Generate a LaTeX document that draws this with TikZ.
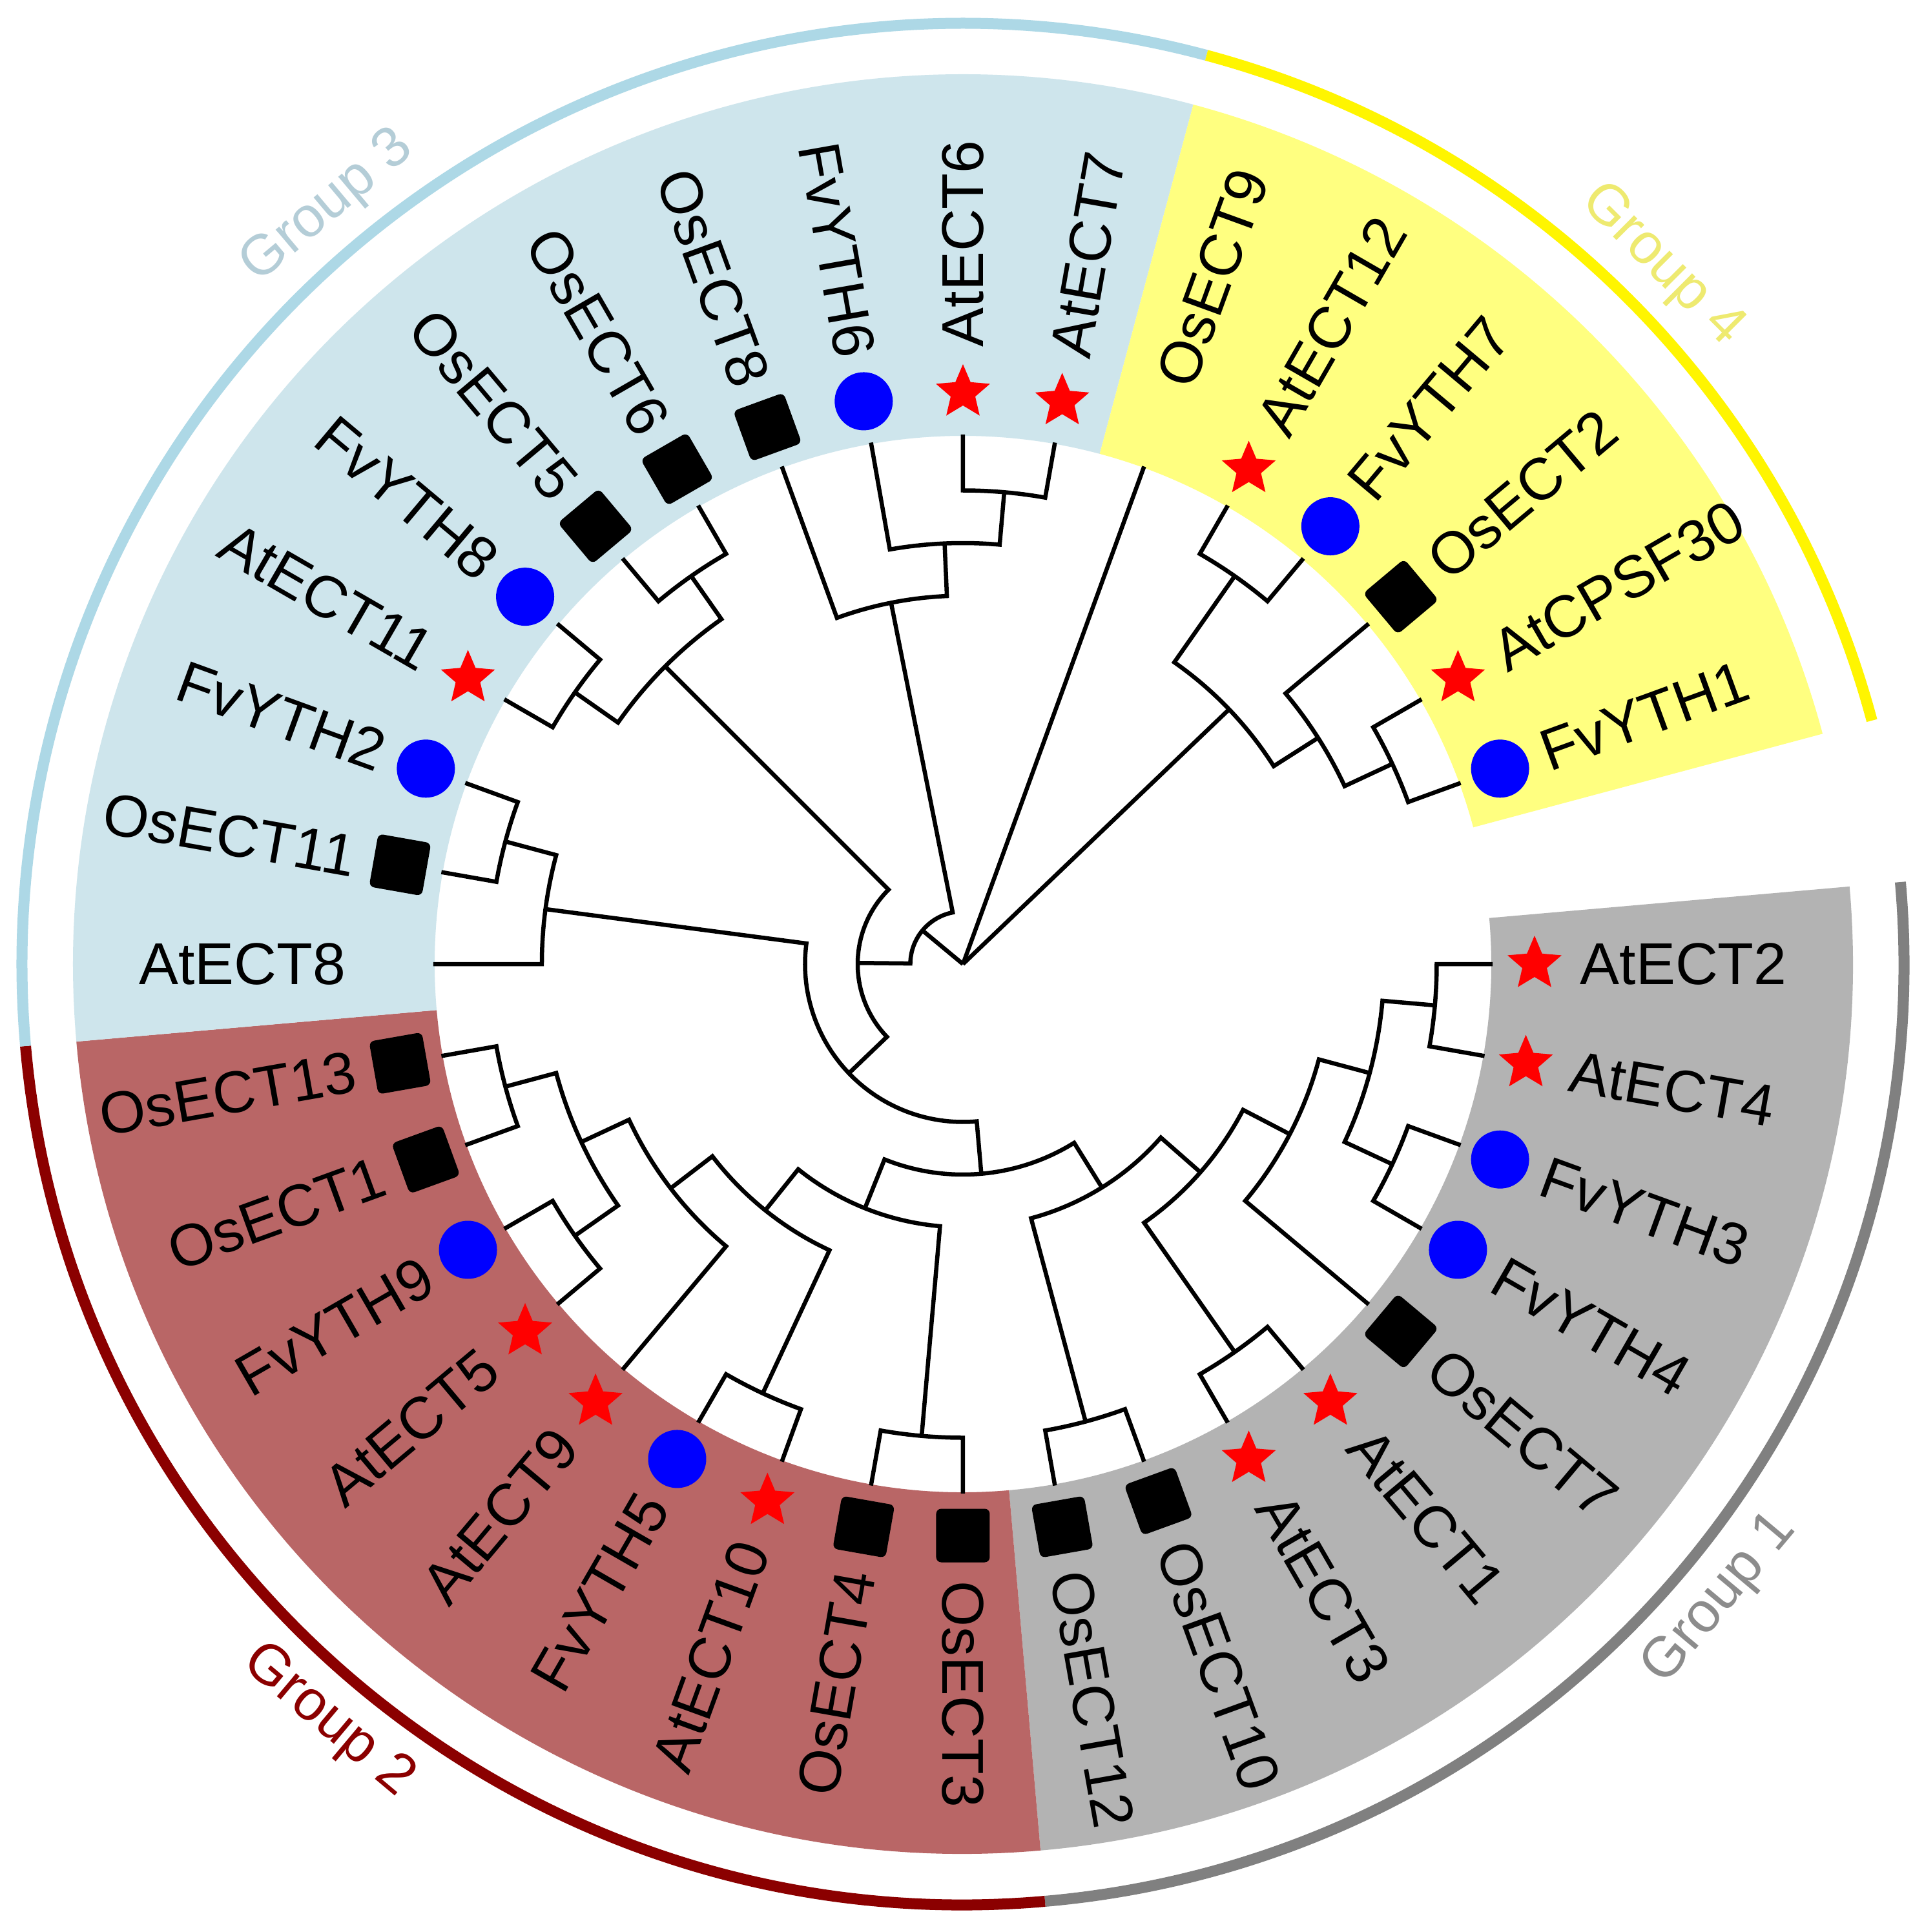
\documentclass[tikz,border=0pt]{standalone}
\usepackage{fontspec}
\setmainfont{Liberation Sans}
\usetikzlibrary{shapes.geometric}
\definecolor{gOnering}{HTML}{808080}
\definecolor{gOnefill}{HTML}{B3B3B3}
\definecolor{gOnetext}{HTML}{8C8C8C}
\definecolor{gTworing}{HTML}{8B0000}
\definecolor{gTwofill}{HTML}{B96666}
\definecolor{gTwotext}{HTML}{8B0000}
\definecolor{gThreering}{HTML}{ADD8E6}
\definecolor{gThreefill}{HTML}{CEE5EC}
\definecolor{gThreetext}{HTML}{B4CDD7}
\definecolor{gFourring}{HTML}{FFF500}
\definecolor{gFourfill}{HTML}{FFFF80}
\definecolor{gFourtext}{HTML}{EEEA70}
\newcommand\grpsector[3]{\fill[#1] (#2:8.18) arc[start angle=#2,end angle=#3,radius=8.18] -- (#3:13.78) arc[start angle=#3,end angle=#2,radius=13.78] -- cycle;}
\newcommand\grpring[3]{\draw[ringline,#1] (#2:14.57) arc[start angle=#2,end angle=#3,radius=14.57];}
\newcommand\leafR[2]{\coordinate (t-#1) at (#2:8.2);\node[leaflabel,anchor=west,rotate=#2] (l-#1) at (#2:9.55) {#1};}
\newcommand\leafL[2]{\coordinate (t-#1) at (#2:8.2);\node[leaflabel,anchor=east,rotate=#2-180] (l-#1) at (#2:9.55) {#1};}
\newcommand\symS[2]{\coordinate (s-#1) at (#2:8.85);\fill[red,shift={(s-#1)}] (90:0.44) -- (126:0.2) -- (162:0.44) -- (198:0.2) -- (234:0.44) -- (270:0.2) -- (306:0.44) -- (342:0.2) -- (18:0.44) -- (54:0.2) -- cycle;}
\newcommand\symC[2]{\node[circsym] (s-#1) at (#2:8.85) {};}
\newcommand\symQ[2]{\node[sqsym,rotate=#2] (s-#1) at (#2:8.85) {};}
\newcommand\clade[6]{\coordinate (#1) at ({((#4)+(#6))/2}:#2);\draw[branch] (#3) -- (#4:#2) arc[start angle=#4,end angle=#6,radius=#2] -- (#5);}
\begin{document}
\begin{tikzpicture}[
  branch/.style={line width=1.85pt,line join=miter,black},
  leaflabel/.style={font=\fontsize{26}{30}\selectfont,inner sep=0pt,text=black},
  grplabel/.style={font=\fontsize{25}{30}\selectfont,inner sep=0pt},
  ringline/.style={line width=0.17cm},
  circsym/.style={circle,fill=blue,inner sep=0pt,minimum size=0.9cm},
  sqsym/.style={rectangle,fill=black,rounded corners=0.08cm,inner sep=0pt,minimum size=0.83cm}
]
\fill[white] (-14.91,-14.99) rectangle (14.88,14.93);
\useasboundingbox (-14.91,-14.99) rectangle (14.88,14.93);
% group backgrounds
\grpsector{gOnefill}{5}{-85}
\grpsector{gTwofill}{-85}{-175}
\grpsector{gThreefill}{185}{75}
\grpsector{gFourfill}{75}{15}
% group rings
\grpring{gOnering}{5}{-85}
\grpring{gTworing}{-85}{-175}
\grpring{gThreering}{185}{75}
\grpring{gFourring}{75}{15}
% group labels
\node[grplabel,text=gOnetext,rotate=50] (grp1) at (-40:15.3) {Group 1};
\node[grplabel,text=gTwotext,rotate=-40] (grp2) at (-130:15.3) {Group 2};
\node[grplabel,text=gThreetext,rotate=40] (grp3) at (130:15.3) {Group 3};
\node[grplabel,text=gFourtext,rotate=-45] (grp4) at (45:15.3) {Group 4};
% leaves and labels
\leafR{AtECT2}{0}
\leafR{AtECT4}{-10}
\leafR{FvYTH3}{-20}
\leafR{FvYTH4}{-30}
\leafR{OsECT7}{-40}
\leafR{AtECT1}{-50}
\leafR{AtECT3}{-60}
\leafR{OsECT10}{-70}
\leafR{OsECT12}{-80}
\leafR{OsECT3}{-90}
\leafL{OsECT4}{-100}
\leafL{AtECT10}{-110}
\leafL{FvYTH5}{-120}
\leafL{AtECT9}{-130}
\leafL{AtECT5}{-140}
\leafL{FvYTH9}{-150}
\leafL{OsECT1}{-160}
\leafL{OsECT13}{-170}
\leafL{AtECT8}{180}
\leafL{OsECT11}{170}
\leafL{FvYTH2}{160}
\leafL{AtECT11}{150}
\leafL{FvYTH8}{140}
\leafL{OsECT5}{130}
\leafL{OsECT6}{120}
\leafL{OsECT8}{110}
\leafL{FvYTH6}{100}
\leafR{AtECT6}{90}
\leafR{AtECT7}{80}
\leafR{OsECT9}{70}
\leafR{AtECT12}{60}
\leafR{FvYTH7}{50}
\leafR{OsECT2}{40}
\leafR{AtCPSF30}{30}
\leafR{FvYTH1}{20}
% tree
\clade{N1h}{7.335}{t-AtECT2}{0}{t-AtECT4}{-10}
\clade{N1g}{7.335}{t-FvYTH3}{-20}{t-FvYTH4}{-30}
\clade{N1f}{6.52}{N1h}{-5}{N1g}{-25}
\clade{N1e}{5.705}{N1f}{-15}{t-OsECT7}{-40}
\clade{N1d}{7.335}{t-AtECT1}{-50}{t-AtECT3}{-60}
\clade{N1c}{4.89}{N1e}{-27.5}{N1d}{-55}
\clade{N1b}{7.335}{t-OsECT10}{-70}{t-OsECT12}{-80}
\clade{N1a}{4.075}{N1c}{-41.25}{N1b}{-75}
\clade{N2b}{7.335}{t-OsECT3}{-90}{t-OsECT4}{-100}
\clade{N2d}{7.335}{t-AtECT10}{-110}{t-FvYTH5}{-120}
\clade{N2i}{7.335}{t-AtECT5}{-140}{t-FvYTH9}{-150}
\clade{N2h}{7.335}{t-OsECT1}{-160}{t-OsECT13}{-170}
\clade{N2g}{6.52}{N2i}{-145}{N2h}{-165}
\clade{N2f}{5.705}{t-AtECT9}{-130}{N2g}{-155}
\clade{N2e}{4.89}{N2d}{-115}{N2f}{-142.5}
\clade{N2a}{4.075}{N2b}{-95}{N2e}{-128.75}
\clade{N12}{3.26}{N1a}{-58.125}{N2a}{-111.875}
\clade{N3r}{7.335}{t-OsECT11}{170}{t-FvYTH2}{160}
\clade{N3s}{6.52}{t-AtECT8}{180}{N3r}{165}
\clade{NB}{2.445}{N3s}{172.5}{N12}{275}
\clade{N3y}{7.335}{t-AtECT11}{150}{t-FvYTH8}{140}
\clade{N3z}{7.335}{t-OsECT5}{130}{t-OsECT6}{120}
\clade{N3x}{6.52}{N3y}{145}{N3z}{125}
\clade{NC}{1.63}{N3x}{135}{NB}{223.75}
\clade{N3u}{7.335}{t-AtECT6}{90}{t-AtECT7}{80}
\clade{N3v}{6.52}{t-FvYTH6}{100}{N3u}{85}
\clade{N3w}{5.705}{t-OsECT8}{110}{N3v}{92.5}
\clade{ND}{0.815}{N3w}{101.25}{NC}{179.375}
\clade{N4d}{7.335}{t-AtCPSF30}{30}{t-FvYTH1}{20}
\clade{N4c}{6.52}{t-OsECT2}{40}{N4d}{25}
\clade{N4b}{7.335}{t-AtECT12}{60}{t-FvYTH7}{50}
\clade{N4a}{5.705}{N4b}{55}{N4c}{32.5}
\coordinate (root) at (0,0);
\draw[branch] (root) -- (ND);
\draw[branch] (root) -- (t-OsECT9);
\draw[branch] (root) -- (N4a);
% symbols
\symS{AtECT2}{0}
\symS{AtECT4}{-10}
\symC{FvYTH3}{-20}
\symC{FvYTH4}{-30}
\symQ{OsECT7}{-40}
\symS{AtECT1}{-50}
\symS{AtECT3}{-60}
\symQ{OsECT10}{-70}
\symQ{OsECT12}{-80}
\symQ{OsECT3}{-90}
\symQ{OsECT4}{-100}
\symS{AtECT10}{-110}
\symC{FvYTH5}{-120}
\symS{AtECT9}{-130}
\symS{AtECT5}{-140}
\symC{FvYTH9}{-150}
\symQ{OsECT1}{-160}
\symQ{OsECT13}{-170}
\symQ{OsECT11}{170}
\symC{FvYTH2}{160}
\symS{AtECT11}{150}
\symC{FvYTH8}{140}
\symQ{OsECT5}{130}
\symQ{OsECT6}{120}
\symQ{OsECT8}{110}
\symC{FvYTH6}{100}
\symS{AtECT6}{90}
\symS{AtECT7}{80}
\symS{AtECT12}{60}
\symC{FvYTH7}{50}
\symQ{OsECT2}{40}
\symS{AtCPSF30}{30}
\symC{FvYTH1}{20}
\end{tikzpicture}
\end{document}
